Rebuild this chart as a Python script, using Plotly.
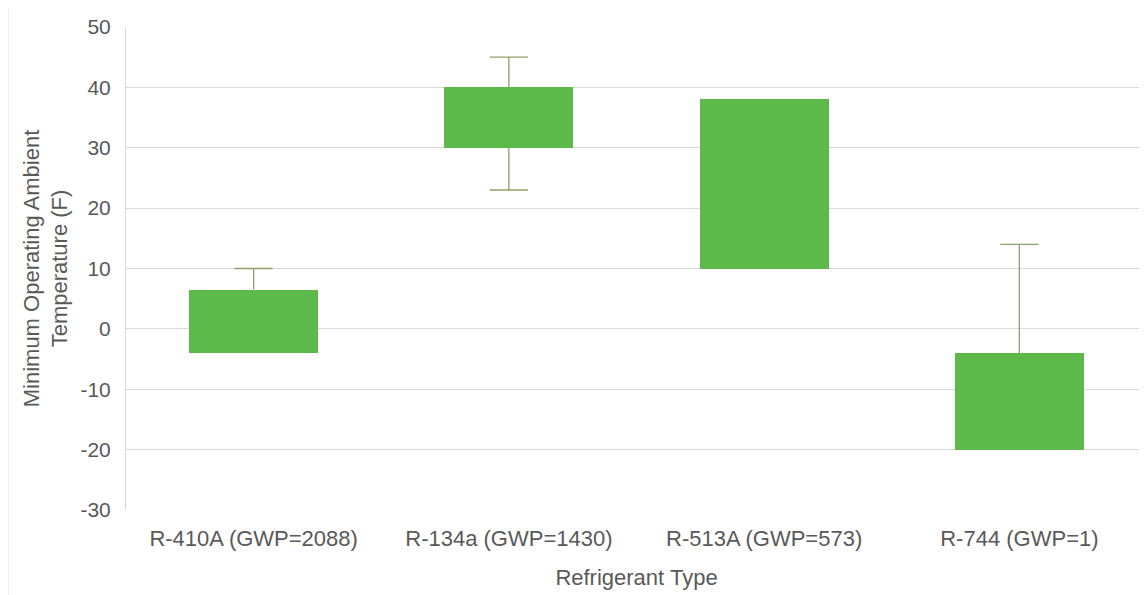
import plotly.graph_objects as go

categories = ["R-410A (GWP=2088)", "R-134a (GWP=1430)", "R-513A (GWP=573)", "R-744 (GWP=1)"]
box_low = [-4, 30, 10, -20]
box_high = [6.5, 40, 38, -4]
whisker_low = [None, 23, None, None]
whisker_high = [10, 45, None, 14]
y_ticks = [-30, -20, -10, 0, 10, 20, 30, 40, 50]
y_tick_labels = ["-30", "-20", "-10", "0", "10", "20", "30", "40", "50"]

BAR_COLOR = "#5cb94a"
WHISKER_COLOR = "#8f9f6a"
TEXT_COLOR = "#595959"
GRID_COLOR = "#d9d9d9"
FONT = "Liberation Sans, Arial, sans-serif"

x_idx = list(range(len(categories)))
cap_half = 0.075

fig = go.Figure()
fig.add_trace(go.Bar(
    x=x_idx,
    y=[h - l for h, l in zip(box_high, box_low)],
    base=box_low,
    width=0.505,
    marker=dict(color=BAR_COLOR, line=dict(width=0)),
    hoverinfo="skip",
    showlegend=False,
))

wx, wy = [], []
for i in x_idx:
    if whisker_high[i] is not None:
        wx += [i, i, None, i - cap_half, i + cap_half, None]
        wy += [box_high[i], whisker_high[i], None, whisker_high[i], whisker_high[i], None]
    if whisker_low[i] is not None:
        wx += [i, i, None, i - cap_half, i + cap_half, None]
        wy += [box_low[i], whisker_low[i], None, whisker_low[i], whisker_low[i], None]

fig.add_trace(go.Scatter(
    x=wx, y=wy, mode="lines",
    line=dict(color=WHISKER_COLOR, width=1.3),
    hoverinfo="skip", showlegend=False, connectgaps=False,
))

# faint frame line on the left edge of the figure
fig.add_shape(type="line", xref="paper", yref="paper",
              x0=-118 / 1021, x1=-118 / 1021, y0=-93 / 483, y1=1 + 19 / 483,
              line=dict(color="#ececec", width=2), layer="below")

fig.update_layout(
    width=1147, height=595,
    margin=dict(l=118, r=8, t=19, b=93),
    plot_bgcolor="white", paper_bgcolor="white",
    font=dict(family=FONT, color=TEXT_COLOR, size=20),
    bargap=0,
    xaxis=dict(
        tickmode="array", tickvals=x_idx, ticktext=categories,
        range=[-0.5, len(categories) - 0.5],
        showgrid=False, zeroline=False, showline=False,
        ticks="", ticklabelstandoff=13,
        tickfont=dict(family=FONT, size=22, color=TEXT_COLOR),
        title=dict(text="Refrigerant Type", font=dict(family=FONT, size=22, color=TEXT_COLOR), standoff=19),
    ),
    yaxis=dict(
        range=[-30, 50], tickmode="array", tickvals=y_ticks, ticktext=y_tick_labels,
        showgrid=True, gridcolor=GRID_COLOR, gridwidth=1,
        zeroline=False, showline=True, linecolor=GRID_COLOR, linewidth=1,
        ticks="", ticklabelstandoff=10,
        tickfont=dict(family=FONT, size=21, color=TEXT_COLOR),
        title=dict(text="Minimum Operating Ambient<br>Temperature (F)",
                   font=dict(family=FONT, size=22, color=TEXT_COLOR), standoff=6),
    ),
)

fig.write_html("out.html")
